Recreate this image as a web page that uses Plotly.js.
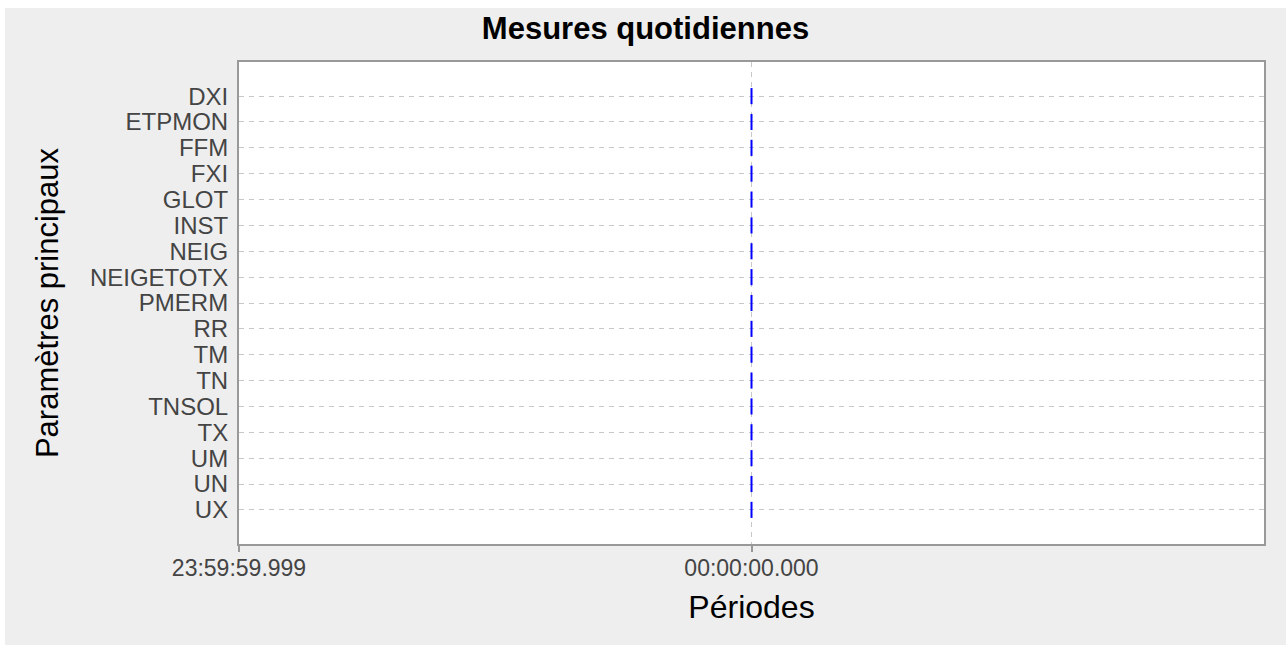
<!DOCTYPE html>
<html>
<head>
<meta charset="utf-8">
<script src="https://cdn.plot.ly/plotly-3.0.1.min.js"></script>
<style>
  html, body { margin: 0; padding: 0; background: #ffffff; width: 1286px; height: 645px; overflow: hidden; }
  #chart { position: absolute; left: 5px; top: 8px; width: 1281px; height: 637px; }
</style>
</head>
<body>
<div id="chart"></div>
<script>
// Data
const categories = ["DXI","ETPMON","FFM","FXI","GLOT","INST","NEIG","NEIGETOTX","PMERM","RR","TM","TN","TNSOL","TX","UM","UN","UX"];
const measureTimes = ["2000-01-01 00:00:00.000","2000-01-01 00:00:00.000","2000-01-01 00:00:00.000","2000-01-01 00:00:00.000","2000-01-01 00:00:00.000","2000-01-01 00:00:00.000","2000-01-01 00:00:00.000","2000-01-01 00:00:00.000","2000-01-01 00:00:00.000","2000-01-01 00:00:00.000","2000-01-01 00:00:00.000","2000-01-01 00:00:00.000","2000-01-01 00:00:00.000","2000-01-01 00:00:00.000","2000-01-01 00:00:00.000","2000-01-01 00:00:00.000","2000-01-01 00:00:00.000"];
const xRange = ["1999-12-31 23:59:59.999","2000-01-01 00:00:00.001"];
const xTickVals = ["1999-12-31 23:59:59.999","2000-01-01 00:00:00.000"];

const trace = {
  type: "scatter",
  mode: "markers",
  x: measureTimes,
  y: categories,
  marker: { symbol: "line-ns", size: 11.5, color: "#0000ff", line: { color: "#0000ff", width: 2 } },
  hoverinfo: "x+y",
  showlegend: false
};

const layout = {
  paper_bgcolor: "#eeeeee",
  plot_bgcolor: "#ffffff",
  margin: { l: 234, r: 22, t: 54, b: 101 },
  font: { family: "Liberation Sans, Arial, sans-serif", color: "#444444" },
  title: {
    text: "<b>Mesures quotidiennes</b>",
    font: { size: 31, color: "#000000", family: "Liberation Sans, Arial, sans-serif" },
    x: 0.5, xanchor: "center", xref: "container",
    y: 0.985, yanchor: "top"
  },
  xaxis: {
    type: "date",
    range: xRange,
    tickmode: "array",
    tickvals: xTickVals,
    tickformat: "%H:%M:%S.%L",
    ticks: "outside", ticklen: 6, tickwidth: 2, tickcolor: "#999999",
    ticklabelstandoff: -4,
    tickfont: { size: 23, color: "#444444" },
    showline: true, linecolor: "#999999", linewidth: 2, mirror: true,
    showgrid: true, gridcolor: "#c8c8c8", griddash: "5px,5px", gridwidth: 1,
    zeroline: false,
    title: { text: "Périodes", font: { size: 32, color: "#000000" }, standoff: 16 }
  },
  yaxis: {
    type: "category",
    categoryorder: "array",
    categoryarray: categories,
    tickmode: "array",
    tickvals: categories,
    range: [17.32, -1.32],
    ticks: "",
    ticklabelstandoff: 4,
    tickfont: { size: 24, color: "#444444" },
    showline: true, linecolor: "#999999", linewidth: 2, mirror: true,
    showgrid: true, gridcolor: "#c8c8c8", griddash: "5px,5px", gridwidth: 1,
    zeroline: false,
    title: { text: "Paramètres principaux", font: { size: 31, color: "#000000" }, standoff: 22 }
  }
};

Plotly.newPlot("chart", [trace], layout, { displayModeBar: false, responsive: false });
</script>
</body>
</html>
